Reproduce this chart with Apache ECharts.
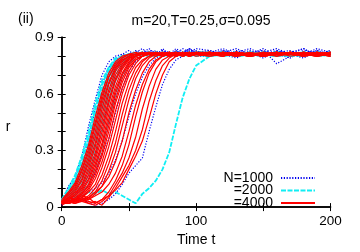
<!DOCTYPE html>
<html><head><meta charset="utf-8">
<script src="https://cdn.jsdelivr.net/npm/echarts@6/dist/echarts.min.js"></script>
<style>html,body{margin:0;padding:0;background:#fff}#c{width:360px;height:252px}</style>
</head><body><div id="c"></div>
<script>
// time grid (shared by all runs)
const T = [0,5,10,15,20,25,30,35,40,45,50,55,60,65,70,75,80,85,90,95,100,110,120,130,140,150,160,170,180,190,200];
const xTicks = [0,100,200];
const yTicks = [0,0.3,0.6,0.9];
const legendNames = ['N=1000','=2000','=4000'];

// N=1000 runs
const N1000_a = [0.03,0.11,0.16,0.27,0.43,0.57,0.70,0.77,0.80,0.81,0.83,0.80,0.82,0.84,0.81,0.82,0.80,0.83,0.81,0.84,0.82,0.82,0.80,0.83,0.81,0.84,0.80,0.82,0.81,0.83,0.80];
const N1000_b = [0.02,0.07,0.12,0.21,0.36,0.52,0.65,0.74,0.78,0.81,0.80,0.82,0.84,0.81,0.80,0.83,0.82,0.80,0.82,0.84,0.81,0.81,0.83,0.80,0.82,0.79,0.83,0.81,0.84,0.80,0.82];
const N1000_c = [0.04,0.05,0.09,0.15,0.25,0.38,0.53,0.66,0.74,0.79,0.80,0.83,0.81,0.82,0.80,0.84,0.81,0.82,0.80,0.83,0.82,0.83,0.81,0.82,0.80,0.83,0.76,0.80,0.82,0.81,0.83];
const N1000_d = [0.01,0.04,0.06,0.11,0.17,0.28,0.41,0.56,0.67,0.75,0.79,0.81,0.80,0.83,0.82,0.80,0.81,0.84,0.82,0.80,0.83,0.80,0.82,0.84,0.81,0.80,0.82,0.83,0.80,0.82,0.81];
const N1000_e = [0.03,0.03,0.05,0.07,0.12,0.18,0.28,0.36,0.50,0.63,0.72,0.77,0.80,0.82,0.81,0.83,0.80,0.82,0.81,0.84,0.81,0.82,0.84,0.81,0.83,0.80,0.81,0.79,0.83,0.82,0.80];
const N1000_f = [0.02,0.04,0.03,0.05,0.02,0.01,0.02,0.04,0.07,0.12,0.18,0.22,0.26,0.40,0.53,0.65,0.73,0.78,0.80,0.82,0.81,0.81,0.80,0.82,0.84,0.81,0.83,0.80,0.81,0.84,0.82];
const N1000_g = [0.03,0.05,0.04,0.06,0.08,0.10,0.13,0.18,0.25,0.35,0.48,0.60,0.69,0.75,0.79,0.81,0.80,0.83,0.81,0.82,0.84,0.83,0.81,0.79,0.82,0.83,0.80,0.82,0.84,0.80,0.83];
const N1000_h = [0.02,0.06,0.08,0.10,0.15,0.22,0.32,0.45,0.59,0.69,0.76,0.80,0.82,0.81,0.83,0.80,0.82,0.81,0.84,0.82,0.80,0.80,0.83,0.81,0.80,0.82,0.84,0.81,0.79,0.83,0.81];

// N=2000 runs
const N2000_a = [0.04,0.10,0.17,0.27,0.40,0.55,0.67,0.74,0.79,0.80,0.81,0.82,0.81,0.80,0.82,0.81,0.81,0.82,0.80,0.81,0.82,0.81,0.82,0.80,0.81,0.82,0.81,0.80,0.82,0.81,0.82];
const N2000_b = [0.03,0.09,0.15,0.25,0.37,0.52,0.65,0.73,0.78,0.80,0.81,0.81,0.82,0.80,0.81,0.82,0.81,0.80,0.82,0.81,0.81,0.82,0.80,0.81,0.82,0.81,0.80,0.82,0.81,0.81,0.82];
const N2000_c = [0.04,0.08,0.14,0.23,0.34,0.49,0.62,0.72,0.77,0.80,0.81,0.80,0.81,0.82,0.81,0.80,0.82,0.81,0.81,0.82,0.80,0.81,0.80,0.82,0.81,0.81,0.82,0.80,0.81,0.82,0.81];
const N2000_d = [0.03,0.07,0.12,0.21,0.32,0.46,0.60,0.70,0.76,0.80,0.81,0.81,0.82,0.81,0.80,0.81,0.82,0.81,0.80,0.82,0.81,0.80,0.82,0.81,0.81,0.80,0.82,0.81,0.82,0.80,0.81];
const N2000_e = [0.02,0.07,0.11,0.19,0.29,0.43,0.57,0.69,0.75,0.79,0.81,0.81,0.81,0.80,0.82,0.81,0.81,0.82,0.80,0.81,0.82,0.82,0.81,0.80,0.82,0.81,0.80,0.81,0.82,0.81,0.80];
const N2000_f = [0.04,0.06,0.10,0.17,0.27,0.40,0.55,0.67,0.74,0.79,0.81,0.81,0.80,0.82,0.81,0.81,0.80,0.82,0.81,0.82,0.81,0.81,0.82,0.80,0.81,0.82,0.81,0.81,0.80,0.82,0.81];
const N2000_g = [0.03,0.05,0.09,0.15,0.25,0.37,0.52,0.65,0.73,0.78,0.80,0.81,0.82,0.81,0.80,0.82,0.81,0.81,0.80,0.82,0.81,0.80,0.81,0.82,0.81,0.80,0.82,0.81,0.81,0.82,0.80];
const N2000_h = [0.02,0.05,0.08,0.14,0.23,0.34,0.49,0.62,0.72,0.77,0.80,0.81,0.81,0.82,0.81,0.80,0.81,0.82,0.81,0.80,0.82,0.81,0.81,0.80,0.82,0.81,0.82,0.80,0.81,0.81,0.82];
const N2000_i = [0.03,0.05,0.07,0.12,0.20,0.31,0.45,0.59,0.69,0.76,0.80,0.81,0.81,0.81,0.82,0.80,0.81,0.81,0.82,0.80,0.81,0.82,0.81,0.81,0.80,0.82,0.81,0.80,0.82,0.81,0.81];
const N2000_j = [0.03,0.04,0.06,0.10,0.17,0.27,0.40,0.55,0.67,0.74,0.79,0.81,0.80,0.81,0.82,0.81,0.80,0.81,0.82,0.81,0.81,0.80,0.82,0.81,0.82,0.81,0.80,0.81,0.82,0.80,0.81];
const N2000_k = [0.02,0.03,0.05,0.08,0.12,0.21,0.32,0.46,0.60,0.70,0.76,0.80,0.81,0.81,0.80,0.82,0.81,0.81,0.82,0.80,0.81,0.81,0.82,0.80,0.81,0.81,0.82,0.81,0.80,0.82,0.81];
const N2000_l = [0.02,0.04,0.05,0.06,0.08,0.07,0.09,0.07,0.08,0.06,0.04,0.02,0.07,0.10,0.14,0.20,0.29,0.44,0.58,0.68,0.75,0.80,0.81,0.82,0.80,0.81,0.82,0.81,0.80,0.82,0.81];

// N=4000 runs
const N4000_a = [0.04,0.08,0.13,0.22,0.33,0.48,0.61,0.71,0.77,0.80,0.81,0.81,0.82,0.81,0.81,0.80,0.81,0.82,0.81,0.81,0.81,0.81,0.82,0.81,0.81,0.80,0.81,0.82,0.81,0.82,0.81];
const N4000_b = [0.03,0.07,0.11,0.19,0.29,0.43,0.57,0.69,0.75,0.79,0.81,0.82,0.81,0.81,0.82,0.80,0.81,0.82,0.81,0.81,0.82,0.81,0.81,0.82,0.81,0.80,0.81,0.81,0.82,0.81,0.81];
const N4000_c = [0.03,0.07,0.12,0.20,0.31,0.45,0.59,0.69,0.76,0.79,0.81,0.81,0.82,0.81,0.80,0.81,0.82,0.81,0.82,0.81,0.81,0.82,0.81,0.81,0.80,0.82,0.81,0.81,0.82,0.81,0.80];
const N4000_d = [0.02,0.06,0.10,0.17,0.27,0.40,0.55,0.66,0.74,0.78,0.80,0.81,0.81,0.82,0.81,0.81,0.80,0.82,0.81,0.81,0.82,0.81,0.80,0.82,0.81,0.81,0.82,0.81,0.81,0.80,0.82];
const N4000_e = [0.03,0.05,0.09,0.15,0.25,0.37,0.52,0.65,0.73,0.78,0.80,0.81,0.82,0.81,0.81,0.80,0.82,0.81,0.81,0.82,0.81,0.81,0.82,0.81,0.81,0.82,0.80,0.81,0.82,0.81,0.81];
const N4000_f = [0.02,0.05,0.08,0.14,0.23,0.34,0.49,0.62,0.72,0.77,0.80,0.81,0.81,0.82,0.81,0.81,0.82,0.80,0.81,0.82,0.81,0.82,0.81,0.80,0.81,0.81,0.82,0.81,0.81,0.82,0.81];
const N4000_g = [0.03,0.04,0.07,0.12,0.21,0.32,0.46,0.60,0.70,0.76,0.79,0.81,0.81,0.81,0.82,0.81,0.80,0.81,0.82,0.81,0.81,0.80,0.81,0.82,0.81,0.81,0.80,0.82,0.81,0.81,0.82];
const N4000_h = [0.02,0.04,0.07,0.11,0.19,0.29,0.43,0.57,0.68,0.75,0.79,0.80,0.81,0.82,0.81,0.81,0.80,0.81,0.82,0.81,0.81,0.81,0.81,0.82,0.80,0.81,0.82,0.81,0.81,0.80,0.81];
const N4000_i = [0.03,0.04,0.06,0.10,0.17,0.27,0.40,0.55,0.67,0.74,0.79,0.80,0.81,0.81,0.82,0.81,0.80,0.81,0.81,0.82,0.81,0.82,0.81,0.81,0.82,0.80,0.81,0.81,0.82,0.81,0.80];
const N4000_j = [0.02,0.04,0.06,0.09,0.15,0.25,0.37,0.52,0.64,0.73,0.78,0.80,0.81,0.81,0.81,0.82,0.81,0.80,0.81,0.82,0.81,0.81,0.80,0.82,0.81,0.81,0.82,0.81,0.80,0.81,0.82];
const N4000_k = [0.03,0.03,0.05,0.08,0.14,0.23,0.34,0.49,0.62,0.71,0.77,0.80,0.81,0.82,0.81,0.81,0.81,0.82,0.80,0.81,0.81,0.81,0.82,0.81,0.80,0.81,0.81,0.82,0.81,0.82,0.81];
const N4000_l = [0.02,0.03,0.05,0.07,0.12,0.21,0.32,0.46,0.60,0.70,0.76,0.80,0.81,0.81,0.81,0.82,0.81,0.81,0.80,0.81,0.82,0.82,0.81,0.81,0.81,0.80,0.82,0.81,0.81,0.82,0.80];
const N4000_m = [0.03,0.03,0.04,0.07,0.11,0.19,0.29,0.43,0.57,0.68,0.75,0.79,0.80,0.81,0.81,0.82,0.81,0.80,0.81,0.81,0.82,0.81,0.81,0.80,0.82,0.81,0.81,0.82,0.80,0.81,0.81];
const N4000_n = [0.02,0.03,0.04,0.06,0.10,0.17,0.27,0.40,0.55,0.66,0.74,0.78,0.80,0.81,0.81,0.81,0.82,0.81,0.80,0.81,0.81,0.82,0.81,0.80,0.81,0.82,0.81,0.81,0.80,0.82,0.81];
const N4000_o = [0.02,0.03,0.04,0.05,0.09,0.15,0.24,0.36,0.51,0.63,0.72,0.78,0.80,0.81,0.82,0.81,0.81,0.80,0.81,0.82,0.81,0.81,0.82,0.81,0.81,0.80,0.81,0.82,0.81,0.81,0.82];
const N4000_p = [0.03,0.02,0.03,0.05,0.08,0.12,0.21,0.32,0.46,0.60,0.70,0.76,0.80,0.81,0.81,0.81,0.82,0.81,0.81,0.80,0.81,0.80,0.81,0.82,0.81,0.81,0.82,0.80,0.81,0.81,0.82];
const N4000_q = [0.02,0.02,0.03,0.04,0.06,0.10,0.17,0.27,0.40,0.55,0.66,0.74,0.78,0.80,0.81,0.81,0.82,0.81,0.81,0.80,0.81,0.81,0.81,0.82,0.80,0.81,0.82,0.81,0.81,0.80,0.81];
const N4000_r = [0.03,0.02,0.03,0.04,0.05,0.08,0.14,0.23,0.34,0.49,0.62,0.71,0.77,0.80,0.81,0.81,0.81,0.82,0.81,0.80,0.81,0.82,0.81,0.81,0.80,0.82,0.81,0.81,0.82,0.81,0.80];
const N4000_s = [0.02,0.03,0.02,0.03,0.04,0.07,0.11,0.19,0.29,0.43,0.57,0.68,0.75,0.79,0.81,0.81,0.82,0.81,0.81,0.81,0.80,0.81,0.82,0.81,0.80,0.81,0.81,0.82,0.81,0.81,0.82];
const N4000_t = [0.03,0.05,0.04,0.06,0.05,0.08,0.11,0.16,0.24,0.35,0.50,0.62,0.71,0.77,0.80,0.81,0.81,0.82,0.81,0.80,0.81,0.81,0.81,0.82,0.81,0.80,0.81,0.82,0.81,0.81,0.81];
const N4000_u = [0.02,0.04,0.03,0.05,0.04,0.06,0.08,0.12,0.18,0.27,0.40,0.54,0.65,0.73,0.78,0.80,0.81,0.81,0.82,0.81,0.81,0.82,0.81,0.80,0.81,0.81,0.82,0.81,0.80,0.81,0.82];
const N4000_v = [0.03,0.02,0.04,0.03,0.05,0.02,0.04,0.08,0.14,0.22,0.33,0.48,0.61,0.71,0.77,0.80,0.81,0.81,0.82,0.81,0.81,0.81,0.80,0.82,0.81,0.81,0.81,0.82,0.81,0.80,0.81];
const N4000_w = [0.02,0.03,0.02,0.04,0.02,0.01,0.03,0.06,0.12,0.18,0.26,0.37,0.52,0.64,0.73,0.78,0.80,0.81,0.81,0.82,0.81,0.82,0.81,0.81,0.80,0.81,0.82,0.81,0.81,0.82,0.81];
const N4000_x = [0.02,0.03,0.04,0.03,0.02,0.03,0.01,0.05,0.10,0.16,0.22,0.30,0.41,0.56,0.67,0.75,0.79,0.81,0.81,0.82,0.81,0.81,0.81,0.82,0.81,0.80,0.81,0.81,0.82,0.81,0.81];
const N4000_y = [0.01,0.03,0.02,0.04,0.03,0.02,0.04,0.06,0.09,0.13,0.20,0.27,0.35,0.47,0.60,0.70,0.77,0.80,0.81,0.81,0.82,0.81,0.82,0.81,0.81,0.80,0.82,0.81,0.81,0.82,0.81];

const runs1000 = [N1000_a,N1000_b,N1000_c,N1000_d,N1000_e,N1000_f,N1000_g,N1000_h];
const runs2000 = [N2000_a,N2000_b,N2000_c,N2000_d,N2000_e,N2000_f,N2000_g,N2000_h,N2000_i,N2000_j,N2000_k,N2000_l];
const runs4000 = [N4000_a,N4000_b,N4000_c,N4000_d,N4000_e,N4000_f,N4000_g,N4000_h,N4000_i,N4000_j,N4000_k,N4000_l,N4000_m,N4000_n,N4000_o,N4000_p,N4000_q,N4000_r,N4000_s,N4000_t,N4000_u,N4000_v,N4000_w,N4000_x,N4000_y];

const FONT = 'Liberation Sans';
const styles = [
  {color:'#0000ee', width:1.2, type:[1.2,1.6]},
  {color:'#10eef4', width:1.8, type:[5,1.5]},
  {color:'#ff0000', width:1.2, type:'solid'}
];
const series = [];
[runs1000, runs2000, runs4000].forEach((group, g) => {
  group.forEach(arr => {
    series.push({
      name: legendNames[g], type:'line', symbol:'none', showSymbol:false,
      animation:false, silent:true, z: 2 + g,
      data: T.map((t,i)=>[t, arr[i]]),
      lineStyle: {color: styles[g].color, width: styles[g].width, type: styles[g].type},
      itemStyle: {color: styles[g].color}
    });
  });
});

function yFmt(v){ const k = Math.round(v*10); if (!yTicks.some(t=>Math.round(t*10)===k)) return ''; return k===0 ? '0' : (k/10).toFixed(1); }
function xFmt(v){ return xTicks.indexOf(Math.round(v))>=0 ? String(Math.round(v)) : ''; }
const axLine = {show:true, lineStyle:{color:'#000', width:1.5}};
const tick = {show:true, inside:true, length:4, lineStyle:{color:'#000', width:1}};

const chart = echarts.init(document.getElementById('c'), null, {renderer:'canvas'});
chart.setOption({
  animation:false,
  backgroundColor:'#fff',
  grid:{left:61.7, right:29.5, top:37.3, bottom:41, containLabel:false},
  xAxis:[
    {type:'value', min:0, max:200, interval:50, position:'bottom', axisLine:axLine, axisTick:tick, splitLine:{show:false},
     axisLabel:{formatter:xFmt, color:'#000', fontSize:13.5, fontFamily:FONT, margin:7},
     name:'Time t', nameLocation:'middle', nameGap:24, nameTextStyle:{color:'#000', fontSize:14, fontFamily:FONT}},
    {type:'value', min:0, max:200, interval:50, position:'top', axisLine:axLine, axisTick:tick, splitLine:{show:false}, axisLabel:{show:false}}
  ],
  yAxis:[
    {type:'value', min:0, max:0.9, interval:0.1, position:'left', axisLine:axLine, axisTick:tick, splitLine:{show:false},
     axisLabel:{formatter:yFmt, color:'#000', fontSize:13.5, fontFamily:FONT, margin:8}},
    {type:'value', min:0, max:0.9, interval:0.1, position:'right', axisLine:axLine, axisTick:tick, splitLine:{show:false}, axisLabel:{show:false}}
  ],
  legend:{
    data: legendNames, orient:'vertical', right:39, top:166, align:'right',
    itemWidth:34, itemHeight:12.5, itemGap:-1.5, selectedMode:false,
    itemStyle:{opacity:0},
    textStyle:{color:'#000', fontSize:14, fontFamily:FONT, lineHeight:12.5, padding:[0,3,0,0]}
  },
  graphic:[
    {type:'text', left:18, top:12, style:{text:'(ii)', fontSize:14, fontFamily:FONT, fill:'#000'}},
    {type:'text', x:201, y:21, style:{text:'m=20,T=0.25,σ=0.095', fontSize:14, fontFamily:FONT, fill:'#000', textAlign:'center', textVerticalAlign:'middle'}},
    {type:'text', x:8, y:127, style:{text:'r', fontSize:14, fontFamily:FONT, fill:'#000', textAlign:'center', textVerticalAlign:'middle'}}
  ],
  series: series
});
</script>
</body></html>
